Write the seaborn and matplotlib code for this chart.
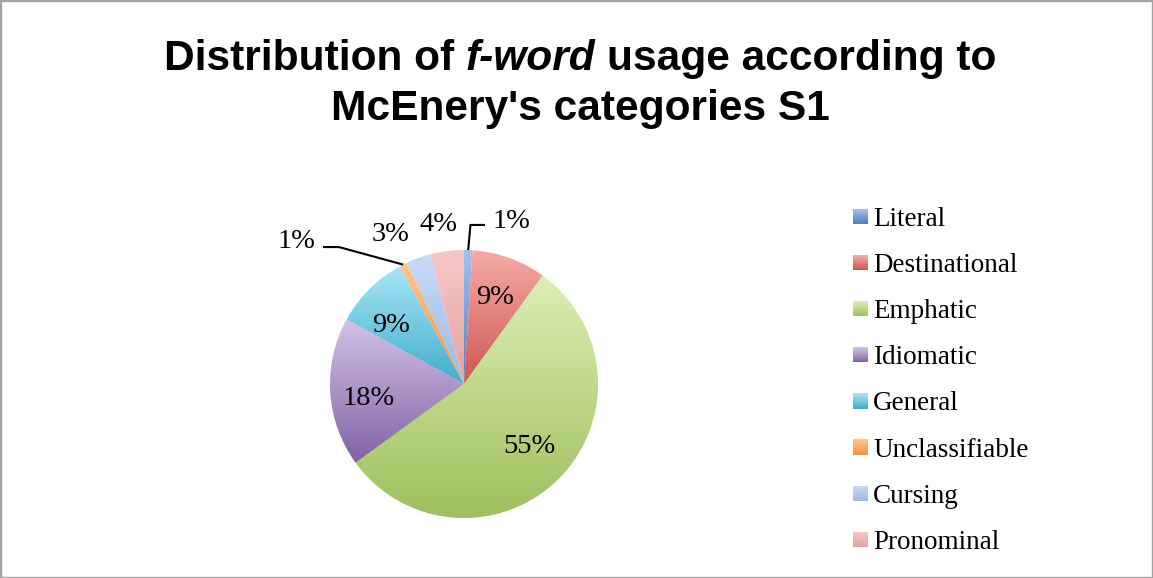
import numpy as np
import matplotlib
matplotlib.use("Agg")
import matplotlib.pyplot as plt
import seaborn as sns
from matplotlib.patches import Rectangle
from matplotlib.legend_handler import HandlerBase
from matplotlib.colors import to_rgb

# Share of each usage category (percent)
categories = ["Literal", "Destinational", "Emphatic", "Idiomatic",
              "General", "Unclassifiable", "Cursing", "Pronominal"]
shares = [1, 9, 55, 18, 9, 1, 3, 4]

# Two-stop vertical gradient per category (top -> bottom)
top_colors = ["#a4c2f0", "#f6aba7", "#dcefb6", "#d2c2e6",
              "#a8e6f8", "#fdc696", "#c8daf6", "#f8c8c6"]
bottom_colors = ["#4c7fc0", "#cf5650", "#a0bf5c", "#8262a6",
                 "#42adca", "#f3923a", "#9fb8e0", "#e2a2a0"]

title_line1 = ("Distribution of ", "f-word", " usage according to")
title_line2 = "McEnery's categories S1"

sns.set_theme(style="white")
plt.rcParams["font.family"] = ["Liberation Serif", "DejaVu Serif"]
plt.rcParams["text.color"] = "black"

W, H = 1153, 578
fig = plt.figure(figsize=(W / 100, H / 100), dpi=100)
fig.patch.set_facecolor("white")

# Pie placement in pixels (centre measured from the top-left corner)
cx, cy, R = 464, 384, 134
ax = fig.add_axes([(cx - R) / W, (H - cy - R) / H, 2 * R / W, 2 * R / H])

wedges, _ = ax.pie(shares, startangle=90, counterclock=False, radius=1.0,
                   wedgeprops=dict(linewidth=0))

# Fill each wedge with a vertical gradient clipped to the wedge outline
ramp = np.linspace(0, 1, 256)[:, None, None]
for w, top, bot in zip(wedges, top_colors, bottom_colors):
    ext = w.get_path().get_extents()
    t = np.array(to_rgb(top))[None, None, :]
    b = np.array(to_rgb(bot))[None, None, :]
    img = t * (1 - ramp) + b * ramp
    im = ax.imshow(img, extent=(ext.x0, ext.x1, ext.y0, ext.y1), origin="upper",
                   aspect="auto", interpolation="bilinear", zorder=1)
    im.set_clip_path(w)
    w.set_facecolor("none")
    w.set_zorder(2)

ax.set_xlim(-1, 1)
ax.set_ylim(-1, 1)
ax.set_aspect("equal")
ax.axis("off")

# Placement of each percent label (in pie-radius units); the two thinnest
# slices get an elbowed leader line from the rim to the label
label_layout = {
    "Literal": dict(xy=(0.216, 1.239), ha="left",
                    elbow=(0.048, 1.187), end=(0.157, 1.187)),
    "Destinational": dict(xy=(0.231, 0.672), ha="center"),
    "Emphatic": dict(xy=(0.485, -0.440), ha="center"),
    "Idiomatic": dict(xy=(-0.709, -0.075), ha="center"),
    "General": dict(xy=(-0.545, 0.463), ha="center"),
    "Unclassifiable": dict(xy=(-1.112, 1.090), ha="right",
                           elbow=(-0.933, 1.022), end=(-1.052, 1.022)),
    "Cursing": dict(xy=(-0.545, 1.142), ha="center"),
    "Pronominal": dict(xy=(-0.187, 1.224), ha="center"),
}
label_font = dict(fontsize=20.5, color="black", family=["Liberation Serif", "DejaVu Serif"])
# Shift so the digits, not the full text box, sit on the anchor point
glyph_shift = 0.03
for name, share, w in zip(categories, shares, wedges):
    lay = label_layout[name]
    if "elbow" in lay:
        mid = np.deg2rad((w.theta1 + w.theta2) / 2)
        xs = [np.cos(mid), lay["elbow"][0], lay["end"][0]]
        ys = [np.sin(mid), lay["elbow"][1], lay["end"][1]]
        ax.plot(xs, ys, color="black", lw=1.5, clip_on=False, zorder=3,
                solid_capstyle="butt")
    ax.text(lay["xy"][0], lay["xy"][1] - glyph_shift, f"{share}%",
            ha=lay["ha"], va="center", **label_font)

# Legend with gradient swatches
class GradientKey:
    def __init__(self, top, bottom):
        self.top, self.bottom = top, bottom

class GradientKeyHandler(HandlerBase):
    def create_artists(self, legend, orig, xdescent, ydescent, width, height,
                       fontsize, trans):
        side = min(width, height)
        n = 16
        t = np.array(to_rgb(orig.top))
        b = np.array(to_rgb(orig.bottom))
        x0, y0 = -xdescent, -ydescent + (height - side) / 2
        arts = []
        for k in range(n):
            f = (k + 0.5) / n
            col = t * (1 - f) + b * f
            y = y0 + side - (k + 1) * side / n
            arts.append(Rectangle((x0, y), side, side / n * 1.08, facecolor=col,
                                  edgecolor="none", transform=trans))
        return arts

keys = [GradientKey(t, b) for t, b in zip(top_colors, bottom_colors)]
fig.legend(keys, categories, handler_map={GradientKey: GradientKeyHandler()},
           loc="upper left", bbox_to_anchor=(853 / W, 1 - 207 / H),
           frameon=False, fontsize=19.5, handlelength=0.56, handleheight=0.56,
           handletextpad=0.19, labelspacing=0.78, borderpad=0, borderaxespad=0,
           labelcolor="black")

# Title: two centred lines, with the middle phrase of line one in italics
renderer = fig.canvas.get_renderer()
tfont = dict(family=["Liberation Sans", "DejaVu Sans"], fontsize=30.6, fontweight="bold",
             color="black")

def text_width(s, style="normal"):
    t = fig.text(0, 0, s, fontstyle=style, **tfont)
    wdt = t.get_window_extent(renderer).width
    t.remove()
    return wdt

space = text_width("x x") - text_width("xx")
pieces = [title_line1[0].strip(), title_line1[1], title_line1[2].strip()]
styles = ["normal", "italic", "normal"]
widths = [text_width(p, s) for p, s in zip(pieces, styles)]
total = sum(widths) + 2 * space
x = 580 - total / 2
for p, s, wd in zip(pieces, styles, widths):
    fig.text(x / W, 1 - 70 / H, p, fontstyle=s, ha="left", va="baseline", **tfont)
    x += wd + space
fig.text(580 / W, 1 - 120 / H, title_line2, ha="center", va="baseline", **tfont)

# Chart frame
fig.patches.append(Rectangle((0, 0), 1, 1, transform=fig.transFigure, fill=False,
                             edgecolor="#a3a3a3", lw=2.4))

fig.savefig("out.png", dpi=100)
